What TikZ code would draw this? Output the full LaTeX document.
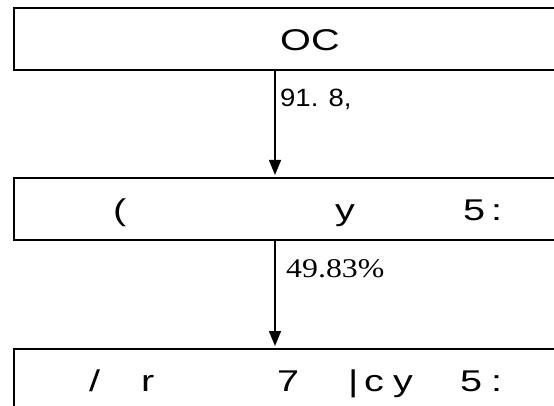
\documentclass[tikz,border=0pt]{standalone}
\usepackage{fontspec}
\usetikzlibrary{arrows.meta}
\newfontfamily\boxfont[FakeStretch=1.32]{Liberation Sans}
\newfontfamily\labfont[FakeStretch=1.1]{Liberation Sans}
\newfontfamily\pctfont[FakeStretch=1.18]{Liberation Serif}
\begin{document}
\begin{tikzpicture}[x=1pt,y=-1pt,
  stage/.style={draw=black,line width=2.2pt,inner sep=0,minimum width=600pt,minimum height=62pt,anchor=north west},
  bt/.style={anchor=base west,inner sep=0,font=\boxfont\fontsize{30}{31}\selectfont},
  flow/.style={line width=1.4pt,shorten >=2pt,-{Triangle[width=12pt,length=15pt]}},
  lab/.style={anchor=base west,inner sep=0}]
\clip (0,0) rectangle (554,406);
\node[stage] (s1) at (13,7) {};
\node[stage] (s2) at (13,177) {};
\node[stage] (s3) at (13,348) {};
% box 1 text
\node[bt] (t1) at (280,50.5) {OC};
% box 2 text
\node[bt] (t2a) at (113,220.5) {(};
\node[bt] (t2b) at (335,220.5) {y};
\node[bt] (t2c) at (463,220.5) {5};
\node[bt] (t2d) at (491,220.5) {:};
% box 3 text
\node[bt] (t3a) at (89,391.5) {/};
\node[bt] (t3b) at (141,391.5) {r};
\node[bt] (t3c) at (277,391.5) {7};
\node[bt] (t3d) at (348,391.5) {|};
\node[bt] (t3e) at (364,391.5) {c};
\node[bt] (t3f) at (393,391.5) {y};
\node[bt] (t3g) at (460,391.5) {5};
\node[bt] (t3h) at (491,391.5) {:};
% connectors
\coordinate (ax) at (275,0);
\draw[flow] (s1.south -| ax) -- (s2.north -| ax);
\draw[flow] (s2.south -| ax) -- (s3.north -| ax);
% labels
\node[lab,font=\labfont\fontsize{25}{26}\selectfont] (l1) at (280,107) {91. 8,};
\node[lab,font=\pctfont\fontsize{27}{28}\selectfont] (l2) at (286,277) {49.83\%};
\end{tikzpicture}
\end{document}
